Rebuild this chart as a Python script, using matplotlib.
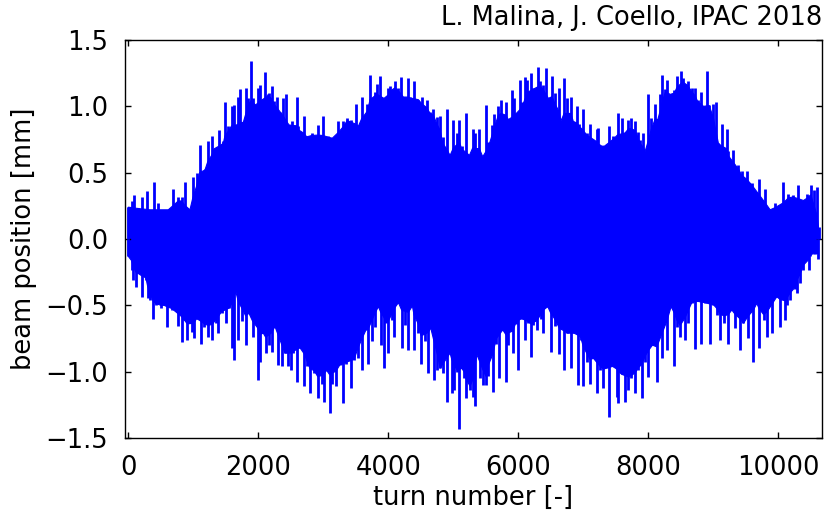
import matplotlib
matplotlib.use("agg")
import matplotlib.pyplot as plt
import pandas as pd
import numpy as np

# turn-by-turn BPM reading, stored as the local extremes of the oscillation
# (turn, value) of the positive peaks
peak_hi_turn = [0, 52, 87, 154, 205, 282, 333, 400, 462, 539, 616, 693, 770, 821, 872, 949, 990,
                1050, 1098, 1180, 1221, 1282, 1323, 1395, 1462, 1487, 1539, 1590, 1631, 1667, 1693,
                1718, 1770, 1806, 1836, 1887, 1923, 1959, 1990, 2026, 2062, 2103, 2144, 2170, 2205,
                2246, 2292, 2333, 2385, 2426, 2472, 2513, 2590, 2616, 2703, 2744, 2821, 2913, 3000,
                3077, 3139, 3231, 3308, 3369, 3426, 3498, 3539,
                3590, 3678, 3719, 3796, 3821, 3873, 3934, 4001, 4027, 4103, 4155, 4196, 4232, 4298,
                4334, 4401, 4462, 4514, 4591, 4642, 4693, 4744, 4796, 4837, 4898, 4950, 5001, 5052,
                5093, 5129, 5196, 5247, 5298, 5334, 5401, 5452, 5498, 5539, 5590, 5632, 5693, 5734,
                5806, 5847, 5898, 5934, 5975, 6026, 6062, 6103, 6129, 6155, 6196, 6232, 6298, 6334,
                6385, 6421, 6462, 6519, 6565, 6627, 6657, 6703, 6745, 6806, 6847, 6898, 6939, 6990,
                7052, 7103, 7155,
                7206, 7231, 7283, 7324, 7395, 7462, 7529, 7600, 7642, 7693, 7734, 7795, 7836, 7872,
                7924, 7949, 8000, 8042, 8103, 8144, 8180, 8216, 8257, 8293, 8334, 8400, 8436, 8503,
                8539, 8606, 8667, 8719, 8760, 8811, 8847, 8898, 8934, 9000, 9037, 9077, 9129, 9206,
                9231, 9308, 9385, 9436, 9513, 9590, 9693, 9795,
                9872, 9950, 10077, 10154, 10221, 10308, 10385, 10436, 10498, 10539, 10590, 10616]
peak_hi_val = [.24, .29, .33, .23, .32, .36, .22, .43, .27, .22, .22, .38, .32, .32, .43, .22, .47,
               .50, .71, .53, .74, .78, .68, .82, .74, 1.03, .85, 1.00, 1.01, .86, 1.07,
               1.13, .88, 1.14, 1.06, 1.34, 1.06, 1.01, 1.14, 1.16, 1.05, 1.26, 1.09, 1.10, 1.15,
               1.04, 1.07, .96, 1.06, 1.09, .86, .89, 1.07, .85, .93, .77, .80, .86, .93,
               .78, .76, .89, .89, .91, .90, 1.02, .85,
               1.07, 1.02, 1.24, 1.11, 1.17, 1.23, 1.06, 1.14, 1.15, 1.19, 1.14, 1.22, 1.07, 1.21,
               1.07, 1.19, 1.05, 1.07, 1.05, .96, .98, .92, .93, .77, .98, .63, .90, .80,
               .90, .70, .95, .63, .83, .80, .83, .62, 1.01, .73, .86, .94, 1.00, 1.05,
               1.03, .90, 1.12, 1.06, .95, 1.20, 1.03, 1.22, 1.20, 1.11, 1.25, 1.14, 1.30, 1.19,
               1.16, 1.29, 1.06, 1.23, 1.10, 1.14, .89, 1.21, 1.06, 1.07, .89, 1.00, .87, .98,
               .80, .87, .75,
               .83, .84, .70, .70, .85, .78, .95, .91, .80, .90, .91, .89, .81, .75,
               .80, .66, 1.09, .91, 1.02, .90, 1.09, 1.24, 1.13, 1.20, 1.09, 1.12, 1.23, 1.27,
               1.21, 1.19, 1.14, 1.14, 1.05, 1.11, 1.00, 1.27, 1.01, 1.02, 1.03, .72, .87, .83,
               .66, .67, .56, .51, .51, .42, .45, .38,
               .22, .27, .43, .34, .33, .41, .29, .34, .41, .37, .39, .09]

# (turn, value) of the negative peaks
peak_lo_turn = [0, 52, 77, 118, 154, 205, 272, 298, 333, 385, 426, 503, 554, 600, 667, 759, 821,
                862, 908, 975, 1010, 1052, 1118, 1170, 1231, 1293, 1344, 1385, 1436, 1498, 1554,
                1600, 1621, 1657, 1693, 1754, 1806, 1857, 1913, 1990, 2026, 2077, 2113, 2164, 2205,
                2257, 2308, 2359, 2410, 2462, 2498, 2539, 2590, 2641, 2708, 2744, 2795, 2862, 2913,
                2975, 3005, 3051, 3098, 3139, 3195, 3257, 3298, 3344, 3426, 3477, 3529,
                3590, 3657, 3693, 3744, 3796, 3847, 3883, 3934, 3965, 4001, 4052, 4093, 4155, 4206,
                4257, 4308, 4370, 4396, 4462, 4503, 4565, 4616, 4652, 4703, 4755, 4796, 4847, 4898,
                4950, 4975, 5016, 5062, 5093, 5129, 5165, 5196, 5257, 5309, 5334, 5360, 5411, 5452,
                5503, 5539, 5606, 5657, 5709, 5760, 5811, 5847, 5914, 5965, 6001, 6052, 6103, 6155,
                6191, 6232, 6283, 6344, 6375, 6452, 6498, 6565, 6632, 6703, 6755, 6806, 6857, 6924,
                6960, 7001, 7052, 7103, 7155,
                7206, 7257, 7308, 7395, 7447, 7513, 7539, 7590, 7642, 7693, 7734, 7795, 7847, 7898,
                7949, 8000, 8062, 8129, 8206, 8283, 8349, 8400, 8436, 8488, 8565, 8616, 8667, 8709,
                8760, 8811, 8872, 8949, 9000, 9052, 9103, 9170, 9231, 9283, 9334, 9410, 9462, 9529,
                9616, 9667, 9703, 9770, 9821, 9898, 9975, 10026, 10103, 10129, 10180, 10257, 10282,
                10334, 10385, 10462, 10488, 10565, 10606]
peak_lo_val = [-.13, -.23, -.31, -.36, -.26, -.435, -.31, -.447, -.46, -.605, -.50, -.52, -.50, -.66,
               -.535, -.656, -.774,
               -.61, -.76, -.70, -.75, -.60, -.79, -.66, -.74, -.76, -.635, -.705, -.56, -.635, -.52,
               -.82, -.91, -.40, -.76, -.62, -.80, -.56, -.74, -1.06, -.925, -.71, -.86, -.80, -.85,
               -.66, -.95, -.96, -.86, -.96, -.99, -.86, -1.08, -.82, -1.11, -.96, -1.16, -1.01, -1.20,
               -1.09, -1.23, -.99, -1.31, -1.09, -1.11, -.95, -1.24, -.94, -1.125, -.91, -.90,
               -.99, -.685, -.94, -.77, -.66, -.51, -.80, -.975, -.635, -.86, -.61, -.74, -.48, -.82,
               -.65, -.84, -.505, -.84, -.71, -.94, -.77, -1.01, -.67, -1.06, -.99, -.975, -1.01, -1.23,
               -.86, -1.16, -1.14, -1.00, -1.43, -.975, -1.05, -1.20, -1.14, -1.19, -1.26, -.87, -1.05, -1.10,
               -1.10, -1.03, -1.15, -.79, -1.05, -.685, -1.08, -.80, -.86, -.64, -.99, -.60, -.76, -.635,
               -.89, -.65, -.685, -.60, -.71, -.51, -.85, -.656, -.87, -.99, -.71, -.975, -.71, -1.10,
               -.76, -1.11, -.925, -1.09, -.90,
               -1.16, -.99, -1.125, -1.34, -.96, -1.19, -1.24, -1.02, -1.23, -1.14, -1.05, -1.16, -.99, -1.20,
               -.925, -1.04, -.80, -1.075, -.90, -.84, -.51, -.956, -.66, -.74, -.76, -.635, -.485, -.83,
               -.47, -.79, -.485, -.79, -.50, -.57, -.76, -.635, -.79, -.535, -.67, -.84, -.635, -.75,
               -.925, -.485, -.82, -.61, -.74, -.71, -.435, -.66, -.61, -.50, -.46, -.38, -.41,
               -.33, -.23, -.23, -.13, -.11, -.15]

hi = pd.Series(peak_hi_val, index=peak_hi_turn)
lo = pd.Series(peak_lo_val, index=peak_lo_turn)
# dense part of the band: smallest excursion among neighbouring peaks, smoothed
hi_core = (hi.rolling(3, center=True, min_periods=1).min()
             .rolling(3, center=True, min_periods=1).mean())
lo_core = (lo.rolling(3, center=True, min_periods=1).max()
             .rolling(3, center=True, min_periods=1).mean())

plt.rcParams["font.family"] = "DejaVu Sans"
plt.rcParams["font.size"] = 18.5

fig = plt.figure(figsize=(8.25, 5.11), dpi=100)
ax = fig.add_axes([0.1515, 0.1429, 0.8449, 0.7788])

blue = "#0000ff"
ax.fill(np.r_[hi_core.index, lo_core.index[::-1]],
        np.r_[hi_core.values, lo_core.values[::-1]],
        color=blue, lw=0.8)
ax.vlines(hi.index, 0, hi.values, color=blue, lw=2.0)
ax.vlines(lo.index, lo.values, 0, color=blue, lw=2.0)

ax.set_xlim(-50, 10670)
ax.set_ylim(-1.5, 1.5)
ax.set_xticks([0, 2000, 4000, 6000, 8000, 10000])
ax.set_yticks([-1.5, -1.0, -0.5, 0.0, 0.5, 1.0, 1.5])
ax.tick_params(direction="in", top=True, right=True, length=4, width=1, pad=12)
for s in ax.spines.values():
    s.set_linewidth(1.0)

ax.set_xlabel("turn number [-]", labelpad=3)
ax.set_ylabel("beam position [mm]", labelpad=6)
ax.set_title("L. Malina, J. Coello, IPAC 2018", loc="right", pad=11, fontsize=18.5)

plt.savefig("out.png", dpi=100)
